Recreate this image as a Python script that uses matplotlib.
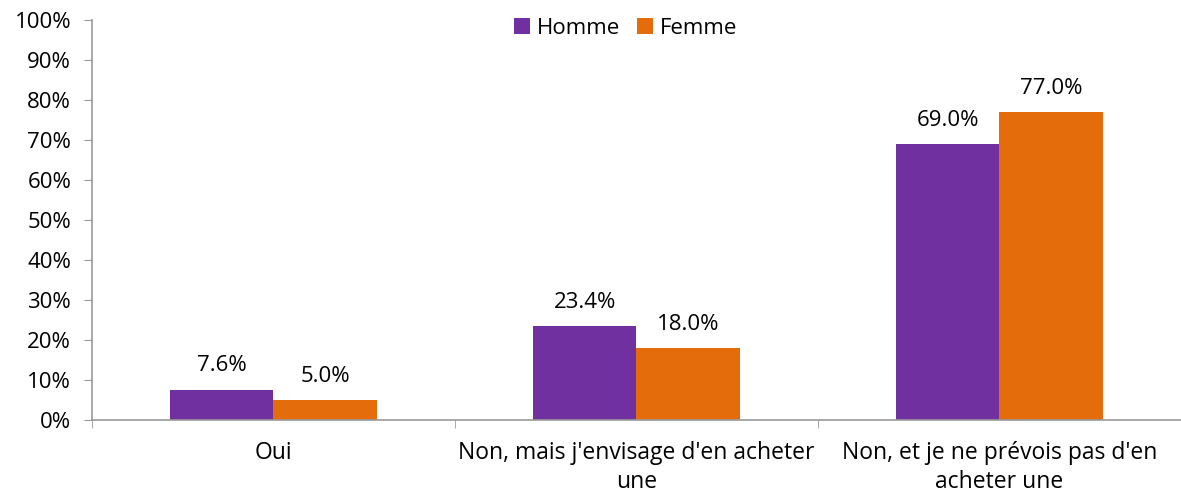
import matplotlib.pyplot as plt
import numpy as np
from matplotlib.ticker import FixedLocator

plt.rcParams['font.family'] = ['Open Sans', 'DejaVu Sans']

categories = ['Oui', "Non, mais j'envisage d'en acheter\nune", "Non, et je ne prévois pas d'en\nacheter une"]
homme = [7.6, 23.4, 69.0]
femme = [5.0, 18.0, 77.0]
series_names = ['Homme', 'Femme']
yticks = [0, 10, 20, 30, 40, 50, 60, 70, 80, 90, 100]

purple = '#7030A0'
orange = '#E46C0A'

fig = plt.figure(figsize=(11.81, 5.01), dpi=100)
ax = fig.add_axes([0.0779, 0.1617, 0.9221, 0.7985])

x = np.arange(len(categories))
w = 0.286
b1 = ax.bar(x - w / 2, homme, w, color=purple, label=series_names[0])
b2 = ax.bar(x + w / 2, femme, w, color=orange, label=series_names[1])

for bars in (b1, b2):
    for bar in bars:
        v = bar.get_height()
        ax.text(bar.get_x() + bar.get_width() / 2, v + 3.3, f'{v:.1f}%',
                ha='center', va='bottom', fontsize=16)

ax.set_xlim(-0.5, len(categories) - 0.5)
ax.set_ylim(0, 100)
ax.set_yticks(yticks)
ax.set_yticklabels([f'{t}%' for t in yticks], fontsize=16)
ax.set_xticks(x)
ax.set_xticklabels(categories, fontsize=16.5, linespacing=1.3)
ax.tick_params(axis='x', which='major', length=0, pad=15)
ax.xaxis.set_minor_locator(FixedLocator(np.arange(-0.5, len(categories), 1.0)))
ax.tick_params(axis='x', which='minor', length=6, color='#999999', direction='out')
ax.tick_params(axis='y', length=6, color='#999999', direction='out', pad=9)

for s in ('top', 'right'):
    ax.spines[s].set_visible(False)
for s in ('left', 'bottom'):
    ax.spines[s].set_color('#999999')
    ax.spines[s].set_linewidth(1.2)

ax.legend(loc='upper center', bbox_to_anchor=(0.49, 1.055), ncol=2, frameon=False,
          fontsize=16, handlelength=0.7, handleheight=0.7, handletextpad=0.3,
          columnspacing=0.8)

fig.savefig('out.png', dpi=100)
